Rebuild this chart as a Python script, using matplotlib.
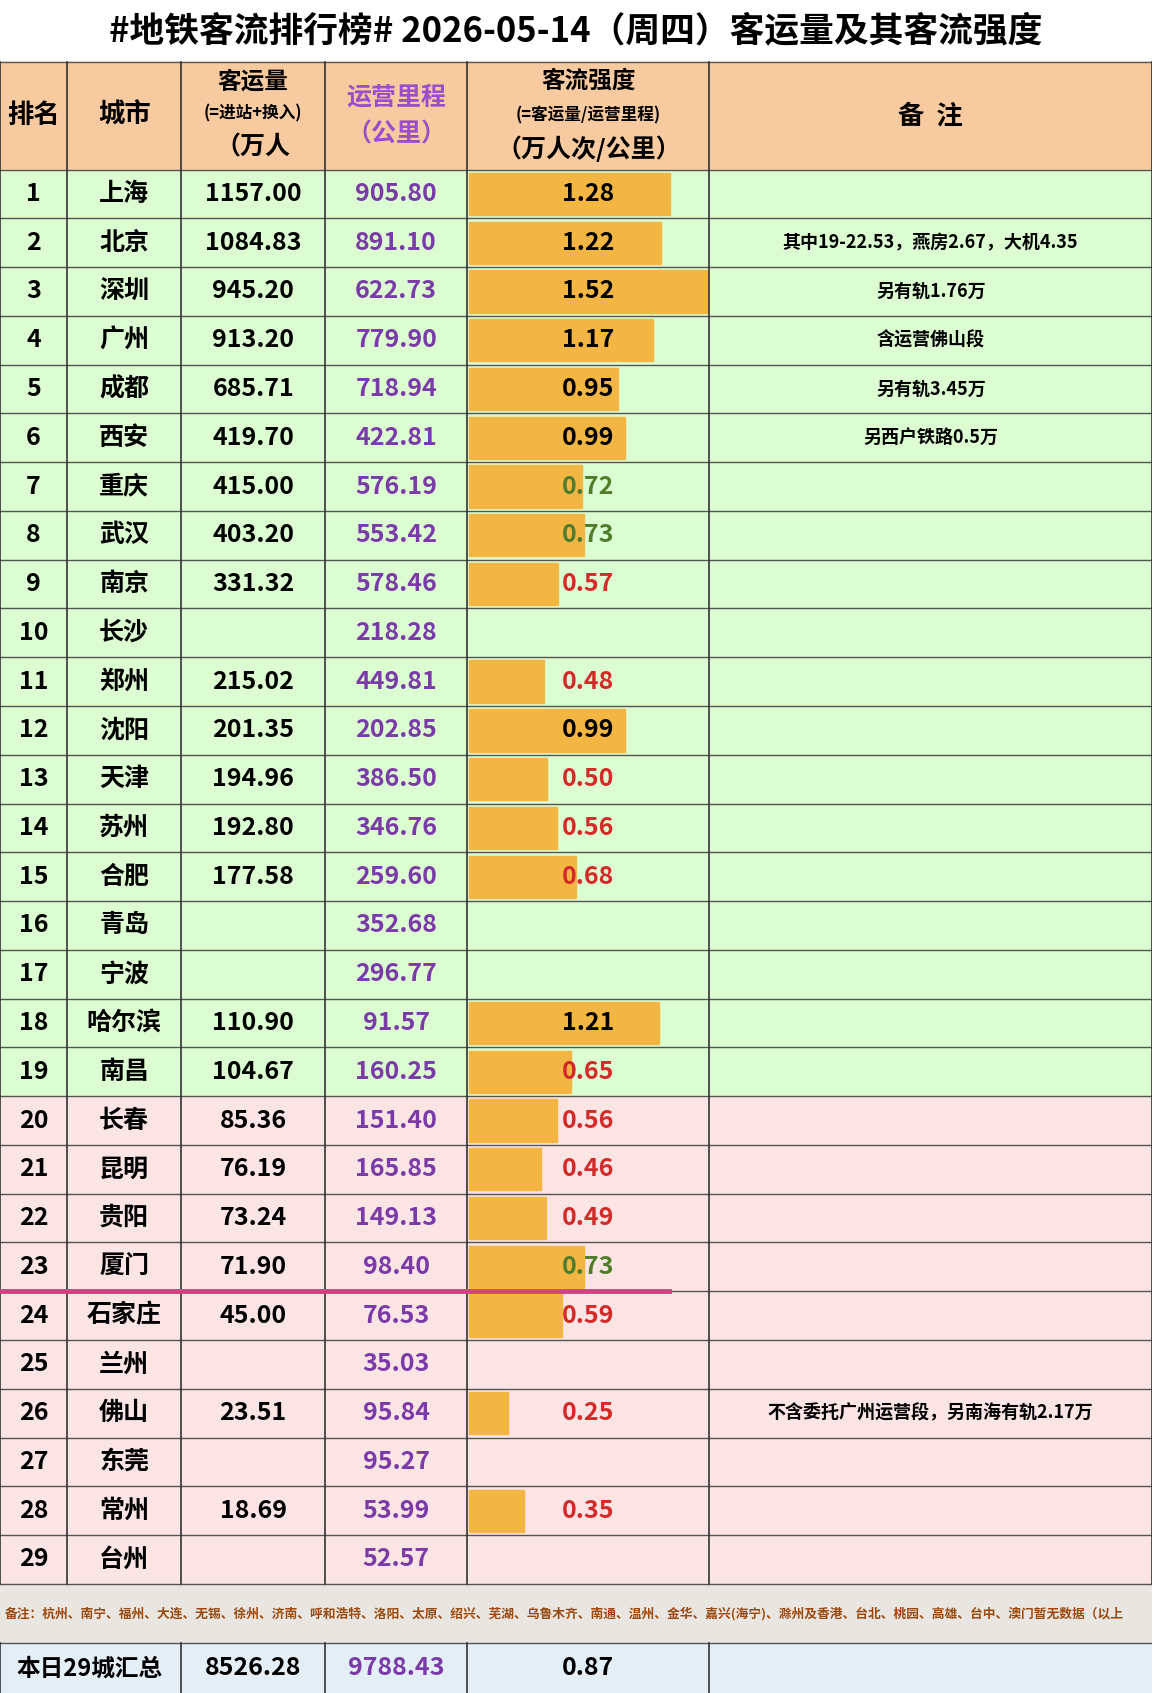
import matplotlib.pyplot as plt
from matplotlib.patches import Rectangle

plt.rcParams['font.family'] = ['Noto Sans CJK SC', 'DejaVu Sans']

ranks = list(range(1, 30))
cities = ["上海", "北京", "深圳", "广州", "成都", "西安", "重庆", "武汉", "南京", "长沙",
          "郑州", "沈阳", "天津", "苏州", "合肥", "青岛", "宁波", "哈尔滨", "南昌", "长春",
          "昆明", "贵阳", "厦门", "石家庄", "兰州", "佛山", "东莞", "常州", "台州"]
volume = [1157.00, 1084.83, 945.20, 913.20, 685.71, 419.70, 415.00, 403.20, 331.32, None,
          215.02, 201.35, 194.96, 192.80, 177.58, None, None, 110.90, 104.67, 85.36,
          76.19, 73.24, 71.90, 45.00, None, 23.51, None, 18.69, None]
mileage = [905.80, 891.10, 622.73, 779.90, 718.94, 422.81, 576.19, 553.42, 578.46, 218.28,
           449.81, 202.85, 386.50, 346.76, 259.60, 352.68, 296.77, 91.57, 160.25, 151.40,
           165.85, 149.13, 98.40, 76.53, 35.03, 95.84, 95.27, 53.99, 52.57]
intensity = [1.28, 1.22, 1.52, 1.17, 0.95, 0.99, 0.72, 0.73, 0.57, None,
             0.48, 0.99, 0.50, 0.56, 0.68, None, None, 1.21, 0.65, 0.56,
             0.46, 0.49, 0.73, 0.59, None, 0.25, None, 0.35, None]
notes = {2: "其中19-22.53，燕房2.67，大机4.35", 3: "另有轨1.76万", 4: "含运营佛山段",
         5: "另有轨3.45万", 6: "另西户铁路0.5万", 26: "不含委托广州运营段，另南海有轨2.17万"}
total = ["本日29城汇总", "8526.28", "9788.43", "0.87"]
footnote = ("备注：杭州、南宁、福州、大连、无锡、徐州、济南、呼和浩特、洛阳、太原、绍兴、芜湖、乌鲁木齐、"
            "南通、温州、金华、嘉兴(海宁)、滁州及香港、台北、桃园、高雄、台中、澳门暂无数据（以上")

W, H = 1067, 1568
cols = [0, 62, 168, 301, 433, 657, 1067]
y0, rh = 157, 45.17
green, pink, head, bar = "#dcfcd2", "#fbe4e4", "#f8caa0", "#f4b642"
purple = "#7a3aa8"

fig = plt.figure(figsize=(11.52, 16.93), dpi=100)
ax = fig.add_axes([0, 0, 1, 1])
ax.set_xlim(0, W)
ax.set_ylim(H, 0)
ax.axis("off")

ax.add_patch(Rectangle((0, 0), W, 57, color="white"))
ax.text(W / 2, 28, "#地铁客流排行榜# 2026-05-14（周四）客运量及其客流强度", ha="center", va="center",
        fontsize=25, fontweight="bold")

# header
ax.add_patch(Rectangle((0, 57), W, y0 - 57, color=head))
cx = [(cols[i] + cols[i + 1]) / 2 for i in range(6)]
hm = (57 + y0) / 2
ax.text(cx[0], hm, "排名", ha="center", va="center", fontsize=19, fontweight="bold")
ax.text(cx[1], hm, "城市", ha="center", va="center", fontsize=19, fontweight="bold")
ax.text(cx[2], 75, "客运量", ha="center", va="center", fontsize=17, fontweight="bold")
ax.text(cx[2], 105, "(=进站+换入)", ha="center", va="center", fontsize=12, fontweight="bold")
ax.text(cx[2], 137, "（万人", ha="center", va="center", fontsize=18, fontweight="bold")
ax.text(cx[3], 90, "运营里程", ha="center", va="center", fontsize=18, fontweight="bold", color="#9a4fc8")
ax.text(cx[3], 125, "（公里）", ha="center", va="center", fontsize=18, fontweight="bold", color="#9a4fc8")
ax.text(cx[4], 75, "客流强度", ha="center", va="center", fontsize=17, fontweight="bold")
ax.text(cx[4], 107, "(=客运量/运营里程)", ha="center", va="center", fontsize=12, fontweight="bold")
ax.text(cx[4], 138, "（万人次/公里）", ha="center", va="center", fontsize=18, fontweight="bold")
ax.text(cx[5], hm, "备  注", ha="center", va="center", fontsize=19, fontweight="bold")

def icolor(v):
    if v >= 0.8:
        return "black"
    if v >= 0.7:
        return "#4f7d2c"
    return "#d42a2a"

for i, r in enumerate(ranks):
    top = y0 + i * rh
    mid = top + rh / 2
    ax.add_patch(Rectangle((0, top), W, rh, color=green if r <= 19 else pink))
    v = intensity[i]
    if v is not None:
        ax.add_patch(Rectangle((cols[4] + 1, top + 3), v * 146, rh - 6, color=bar))
        ax.text(cx[4], mid, f"{v:.2f}", ha="center", va="center", fontsize=18, fontweight="bold",
                color=icolor(v))
    ax.text(cx[0], mid, str(r), ha="center", va="center", fontsize=18, fontweight="bold")
    ax.text(cx[1], mid, cities[i], ha="center", va="center", fontsize=18, fontweight="bold")
    if volume[i] is not None:
        ax.text(cx[2], mid, f"{volume[i]:.2f}", ha="center", va="center", fontsize=18, fontweight="bold")
    ax.text(cx[3], mid, f"{mileage[i]:.2f}", ha="center", va="center", fontsize=18, fontweight="bold",
            color=purple)
    if r in notes:
        ax.text(cx[5], mid, notes[r], ha="center", va="center", fontsize=13, fontweight="bold")

rows_end = y0 + 29 * rh
# footnote band
ax.add_patch(Rectangle((0, rows_end), W, 1522 - rows_end, color="#e9e5e1"))
ax.text(4, (rows_end + 1522) / 2, footnote, ha="left", va="center", fontsize=9.2, color="#9a4a10",
        fontweight="bold", clip_on=True)
# total row
ax.add_patch(Rectangle((0, 1522), W, H - 1522, color="#e4eef6"))
tm = (1522 + H) / 2
ax.text(83, tm, total[0], ha="center", va="center", fontsize=17, fontweight="bold")
ax.text(cx[2], tm, total[1], ha="center", va="center", fontsize=18, fontweight="bold")
ax.text(cx[3], tm, total[2], ha="center", va="center", fontsize=18, fontweight="bold", color=purple)
ax.text(cx[4], tm, total[3], ha="center", va="center", fontsize=18, fontweight="bold")

# grid lines
for k in range(30):
    ax.plot([0, W], [y0 + k * rh] * 2, color="#555555", lw=1)
ax.plot([0, W], [57, 57], color="#555555", lw=1)
ax.plot([0, W], [1522, 1522], color="#555555", lw=1)
for c in cols:
    ax.plot([c, c], [57, rows_end], color="#333333", lw=1.2)
for c in [168, 301, 433, 657]:
    ax.plot([c, c], [1522, H], color="#333333", lw=1.2)
ax.plot([0, 0], [1522, H], color="#333333", lw=1.2)

# highlight line under row 23
ax.plot([0, 620], [y0 + 23 * rh] * 2, color="#cc4480", lw=3.5)

fig.savefig("out.png", dpi=100)
